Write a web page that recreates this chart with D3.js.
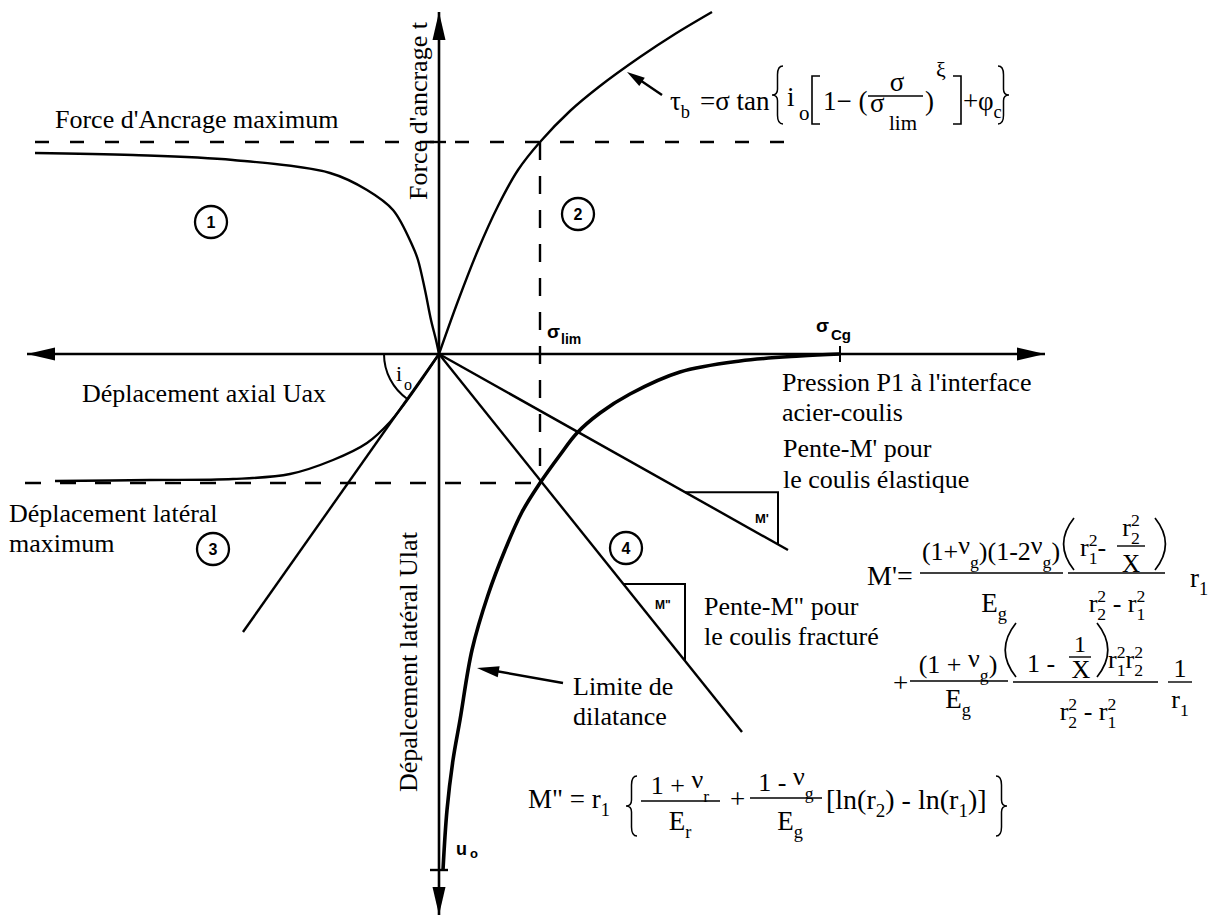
<!DOCTYPE html>
<html>
<head>
<meta charset="utf-8">
<script src="https://cdn.jsdelivr.net/npm/d3@7"></script>
<style>
  body { margin: 0; background: #fff; }
  svg { display: block; }
  .serif { font-family: "Liberation Serif", "Times New Roman", serif; fill: #000; white-space: pre; }
  .sans { font-family: "Liberation Sans", Arial, sans-serif; font-weight: bold; fill: #000; white-space: pre; }
</style>
</head>
<body>
<script>
// values (1 unit = 4 px of the original drawing)
var xExtent = [-103, 151.5];    // axial displacement (left) / pressure P1 (right)
var yExtent = [-140.25, 85.5];  // lateral displacement (down) / anchoring force (up)

// quadrant 1 : anchoring force vs axial displacement
var anchorForce = [[-101, 50.25], [-76.5, 49.75], [-51.5, 48.5], [-27.25, 45.25], [-18, 41], [-11.5, 36],
  [-6.5, 26.75], [-5.25, 23.5], [-3.5, 16], [-2, 8.5], [-0.75, 3.5], [0, 0]];
// quadrant 2 : bond stress law tau_b(sigma)
var bondStress = [[0, 0], [4.75, 13.25], [9.75, 26], [14.75, 37], [19.75, 46], [25.25, 53], [32.75, 60.75],
  [40.25, 67], [50.25, 74.25], [59, 80], [68.25, 85.5]];
// quadrant 3 : lateral vs axial displacement
var lateralDisp = [[-96, -31.75], [-72.25, -31.5], [-51.5, -31.25], [-37.25, -30], [-26.5, -26.5], [-18, -22.25],
  [-12.25, -17], [-8.5, -12.25], [-4.75, -7], [0, 0]];
// quadrant 4 : dilatancy limit
var dilatancy = [[1, -129], [2, -114], [3.5, -101.5], [5.25, -91.5], [8.25, -74], [12.25, -60.25], [16.5, -49],
  [20.75, -39.5], [25.25, -32.25], [30.25, -25.25], [34.5, -19.75], [40.25, -14.75], [47.75, -10],
  [60.25, -4.5], [75.25, -1.75], [90.25, -0.5], [100.25, 0]];

// straight lines from the origin (end points)
var lineIo = [-49, -69.5];
var lineM1 = [87.25, -49];    // M' elastic grout
var lineM2 = [75.75, -94.5];  // M'' fractured grout
var triM1 = [61.5, 84.75];    // slope triangles (u start, u end)
var triM2 = [46.1, 61.5];

var fMax = 53, uLatMax = -32.25, sigmaLim = 25.25, sigmaCg = 100.25, u0 = -129;
var fMaxSpan = [-101, 87.75];
var uLatSpan = [-103.5, 25.25];
var zones = ["1", "2", "3", "4"];

var svg = d3.select("body").append("svg").attr("width", 1222).attr("height", 918);

var x = d3.scaleLinear().domain([-103, 152]).range([27, 1047]);
var y = d3.scaleLinear().domain([-141, 86]).range([918, 10]);

var curve = d3.line()
  .x(d => x(d[0]))
  .y(d => y(d[1]))
  .curve(d3.curveCatmullRom.alpha(0.5));

function seg(x1, y1, x2, y2, w) {
  return svg.append("line")
    .attr("x1", x1).attr("y1", y1).attr("x2", x2).attr("y2", y2)
    .attr("stroke", "#000").attr("stroke-width", w || 2.4);
}

function arrowHead(tx, ty, fx, fy, len, half) {
  var a = Math.atan2(ty - fy, tx - fx);
  var bx = tx - len * Math.cos(a), by = ty - len * Math.sin(a);
  var px = -Math.sin(a) * half, py = Math.cos(a) * half;
  svg.append("path")
    .attr("d", `M${tx},${ty}L${bx + px},${by + py}L${bx - px},${by - py}Z`)
    .attr("fill", "#000");
}

// axes
seg(x(xExtent[0]), y(0), x(xExtent[1]), y(0), 2.6);
seg(x(0), y(yExtent[1]), x(0), y(yExtent[0]), 2.6);
arrowHead(x(xExtent[1]), y(0), x(0), y(0), 28, 6.5);
arrowHead(x(xExtent[0]), y(0), x(0), y(0), 28, 6.5);
arrowHead(x(0), y(yExtent[1]), x(0), y(0), 28, 6.5);
arrowHead(x(0), y(yExtent[0]), x(0), y(0), 28, 6.5);

// ticks
seg(x(0) - 9, y(fMax), x(0) + 7, y(fMax), 2.4);
seg(x(0) - 9, y(u0), x(0) + 9, y(u0), 2.4);
seg(x(sigmaLim), y(0) - 8, x(sigmaLim), y(0) + 8, 2);
seg(x(sigmaCg), y(0) - 8, x(sigmaCg), y(0) + 8, 2);

// dashed limits
seg(x(fMaxSpan[0]), y(fMax), x(fMaxSpan[1]), y(fMax), 2.4).attr("stroke-dasharray", "14,21");
seg(x(uLatSpan[0]), y(uLatMax), x(uLatSpan[1]), y(uLatMax), 2.4).attr("stroke-dasharray", "16,19");
seg(x(sigmaLim), y(fMax), x(sigmaLim), y(uLatMax), 2.4).attr("stroke-dasharray", "18,16");

// curves
[anchorForce, bondStress, lateralDisp].forEach(function(c) {
  svg.append("path").attr("d", curve(c)).attr("fill", "none").attr("stroke", "#000").attr("stroke-width", 2.4);
});
svg.append("path").attr("d", curve(dilatancy)).attr("fill", "none").attr("stroke", "#000").attr("stroke-width", 3.6);

// straight lines from origin
[lineIo, lineM1, lineM2].forEach(function(p) {
  seg(x(0), y(0), x(p[0]), y(p[1]), 2.4);
});

// slope triangles
[[triM1, lineM1], [triM2, lineM2]].forEach(function(t) {
  var s = t[1][1] / t[1][0], u = t[0];
  svg.append("path")
    .attr("d", `M${x(u[0])},${y(s * u[0])}H${x(u[1])}V${y(s * u[1])}`)
    .attr("fill", "none").attr("stroke", "#000").attr("stroke-width", 2);
});

// i0 angle arc
var aStart = Math.atan2(y(lineIo[1]) - y(0), x(lineIo[0]) - x(0));
var arc = d3.path();
arc.moveTo(x(0) + 55 * Math.cos(aStart), y(0) + 55 * Math.sin(aStart));
arc.arc(x(0), y(0), 55, aStart, Math.PI);
svg.append("path").attr("d", arc.toString()).attr("fill", "none").attr("stroke", "#000").attr("stroke-width", 2);

// ---------- text helpers ----------
function word(g, px, py, s, size, cls) {
  var t = g.append("text").attr("class", cls || "serif")
    .attr("x", px).attr("y", py).attr("font-size", size).text(s);
  return t.node().getComputedTextLength();
}

// draws pieces left to right, pieces are strings or {t, sub, sup, dy}
function run(g, px, py, pieces, size, cls) {
  var cx = px;
  pieces.forEach(function(p) {
    if (typeof p === "string") p = { t: p };
    var w = p.t ? word(g, cx, py + (p.dy || 0), p.t, size, cls) : 0;
    var ws = 0;
    if (p.sub) ws = Math.max(ws, word(g, cx + w, py + size * 0.3, p.sub, size * 0.68, cls));
    if (p.sup) ws = Math.max(ws, word(g, cx + w, py - size * 0.38, p.sup, size * 0.68, cls));
    cx += w + ws;
  });
  return cx - px;
}

function centered(g, cx, py, pieces, size, cls) {
  var sub = g.append("g");
  var w = run(sub, 0, py, pieces, size, cls);
  sub.attr("transform", `translate(${cx - w / 2},0)`);
}

function bar(g, x1, x2, py) {
  g.append("line").attr("x1", x1).attr("x2", x2).attr("y1", py).attr("y2", py)
    .attr("stroke", "#000").attr("stroke-width", 1.4);
}

function stroke(g, d, w) {
  g.append("path").attr("d", d).attr("fill", "none").attr("stroke", "#000").attr("stroke-width", w || 1.6);
}

function paren(g, px, y0, y1, dir) {
  var b = dir * (y1 - y0) * 0.2;
  stroke(g, `M${px},${y0}Q${px - 2 * b},${(y0 + y1) / 2} ${px},${y1}`, 1.7);
}

function brace(g, px, y0, y1, w, dir) {
  var h = y1 - y0, m = (y0 + y1) / 2;
  var e = dir > 0 ? px + w : px, c = px + w / 2, t = dir > 0 ? px : px + w;
  stroke(g, `M${e},${y0}Q${c},${y0} ${c},${y0 + h * 0.15}L${c},${m - h * 0.1}Q${c},${m} ${t},${m}` +
    `Q${c},${m} ${c},${m + h * 0.1}L${c},${y1 - h * 0.15}Q${c},${y1} ${e},${y1}`, 1.5);
}

function square(g, px, y0, y1, w, dir) {
  var e = dir > 0 ? px + w : px, s = dir > 0 ? px : px + w;
  stroke(g, `M${e},${y0}L${s},${y0}L${s},${y1}L${e},${y1}`, 1.6);
}

// ---------- labels ----------
var lab = svg.append("g");
word(lab, 55, 128, "Force d'Ancrage maximum", 26);
word(lab, 82, 402, "Déplacement axial Uax", 26);
word(lab, 9, 522, "Déplacement latéral", 26);
word(lab, 9, 552, "maximum", 26);
word(lab, 782, 391, "Pression P1 à l'interface", 26);
word(lab, 782, 421, "acier-coulis", 26);
word(lab, 783, 457, "Pente-M' pour", 26);
word(lab, 783, 488, "le coulis élastique", 26);
word(lab, 704, 615, "Pente-M\" pour", 26);
word(lab, 704, 645, "le coulis fracturé", 26);
word(lab, 573, 695, "Limite de", 26);
word(lab, 573, 725, "dilatance", 26);

lab.append("text").attr("class", "serif").attr("font-size", 26)
  .attr("transform", "translate(427,200) rotate(-90)").text("Force d'ancrage t");
lab.append("text").attr("class", "serif").attr("font-size", 26)
  .attr("transform", "translate(417,792) rotate(-90)").text("Dépalcement latéral Ulat");

// bold sans markers
word(lab, 547, 338, "σ", 19, "sans");
word(lab, 561, 344, "lim", 14, "sans");
word(lab, 816, 332, "σ", 19, "sans");
word(lab, 831, 340, "Cg", 15, "sans");
word(lab, 456, 855, "u", 18, "sans");
word(lab, 470, 858, "o", 13, "sans");
word(lab, 755, 523, "M'", 13, "sans");
word(lab, 655, 609, "M\"", 12, "sans");
word(lab, 396, 381, "i", 22);
word(lab, 404, 390, "o", 16);

// circled zone numbers
var zonePos = [[211, 222], [578, 214], [213, 549], [626, 548]];
zones.forEach(function(z, i) {
  lab.append("circle").attr("cx", zonePos[i][0]).attr("cy", zonePos[i][1]).attr("r", 16)
    .attr("fill", "none").attr("stroke", "#000").attr("stroke-width", 2.3);
  lab.append("text").attr("class", "sans").attr("font-size", 16).attr("text-anchor", "middle")
    .attr("x", zonePos[i][0]).attr("y", zonePos[i][1] + 6).text(z);
});

// annotation arrows
seg(662, 95, 634, 76, 2.4);
arrowHead(627, 72, 662, 95, 18, 5);
seg(563, 683, 490, 670, 2.4);
arrowHead(477, 668, 563, 683, 22, 5.5);

// ---------- formulas ----------
var f = svg.append("g");
// tau_b law
run(f, 670, 110, [{ t: "τ", sub: "b" }], 27);
word(f, 700, 110, "=σ tan", 27);
brace(f, 772, 66, 124, 11, 1);
word(f, 787, 106, "i", 27);
word(f, 799, 120, "o", 21);
square(f, 812, 76, 124, 8, 1);
word(f, 823, 110, "1− (", 27);
centered(f, 897, 91, ["σ"], 27);
bar(f, 868, 923, 96);
word(f, 870, 112, "σ", 27);
word(f, 889, 130, "lim", 21);
word(f, 925, 110, ")", 27);
word(f, 936, 77, "ξ", 22);
square(f, 953, 76, 124, 8, -1);
word(f, 963, 110, "+", 27);
run(f, 978, 110, [{ t: "φ", sub: "c" }], 27);
brace(f, 998, 66, 124, 11, -1);

// M' (elastic grout)
var nu = -6;
word(f, 867, 585, "M'=", 28);
centered(f, 991, 560, ["(1+", { t: "ν", sub: "g", dy: nu }, ")(1-2", { t: "ν", sub: "g", dy: nu }, ")"], 26);
bar(f, 920, 1063, 573);
centered(f, 994, 612, [{ t: "E", sub: "g" }], 27);
paren(f, 1074, 518, 570, 1);
run(f, 1080, 556, [{ t: "r", sub: "1", sup: "2" }, "-"], 26);
centered(f, 1131, 536, [{ t: "r", sub: "2", sup: "2" }], 26);
bar(f, 1117, 1145, 546);
centered(f, 1131, 572, ["X"], 25);
paren(f, 1155, 518, 570, -1);
bar(f, 1068, 1165, 573);
centered(f, 1117, 612, [{ t: "r", sub: "2", sup: "2" }, " - ", { t: "r", sub: "1", sup: "2" }], 26);
run(f, 1190, 587, [{ t: "r", sub: "1" }], 27);

word(f, 893, 692, "+", 27);
centered(f, 958, 673, ["(1 + ", { t: "ν", sub: "g", dy: nu }, ")"], 26);
bar(f, 910, 1008, 681);
centered(f, 958, 708, [{ t: "E", sub: "g" }], 27);
paren(f, 1016, 623, 677, 1);
word(f, 1027, 672, "1 -", 26);
centered(f, 1080, 652, ["1"], 24);
bar(f, 1069, 1091, 657);
centered(f, 1081, 678, ["X"], 26);
paren(f, 1097, 623, 677, -1);
run(f, 1108, 668, [{ t: "r", sub: "1", sup: "2" }, { t: "r", sub: "2", sup: "2" }], 26);
bar(f, 1013, 1158, 682);
centered(f, 1088, 720, [{ t: "r", sub: "2", sup: "2" }, " - ", { t: "r", sub: "1", sup: "2" }], 26);
centered(f, 1180, 677, ["1"], 26);
bar(f, 1168, 1192, 682);
centered(f, 1180, 708, [{ t: "r", sub: "1" }], 26);

// M'' (fractured grout)
run(f, 528, 808, ["M\" = ", { t: "r", sub: "1" }], 27);
brace(f, 626, 776, 836, 11, 1);
centered(f, 680, 794, ["1 + ", { t: "ν", sub: "r", dy: nu }], 26);
bar(f, 641, 720, 801);
centered(f, 680, 830, [{ t: "E", sub: "r" }], 27);
word(f, 730, 808, "+", 27);
centered(f, 786, 791, ["1 - ", { t: "ν", sub: "g", dy: nu }], 26);
bar(f, 750, 822, 798);
centered(f, 790, 830, [{ t: "E", sub: "g" }], 27);
run(f, 826, 809, ["[ln(", { t: "r", sub: "2" }, ") - ln(", { t: "r", sub: "1" }, ")]"], 28);
brace(f, 996, 776, 836, 11, -1);
</script>
</body>
</html>
